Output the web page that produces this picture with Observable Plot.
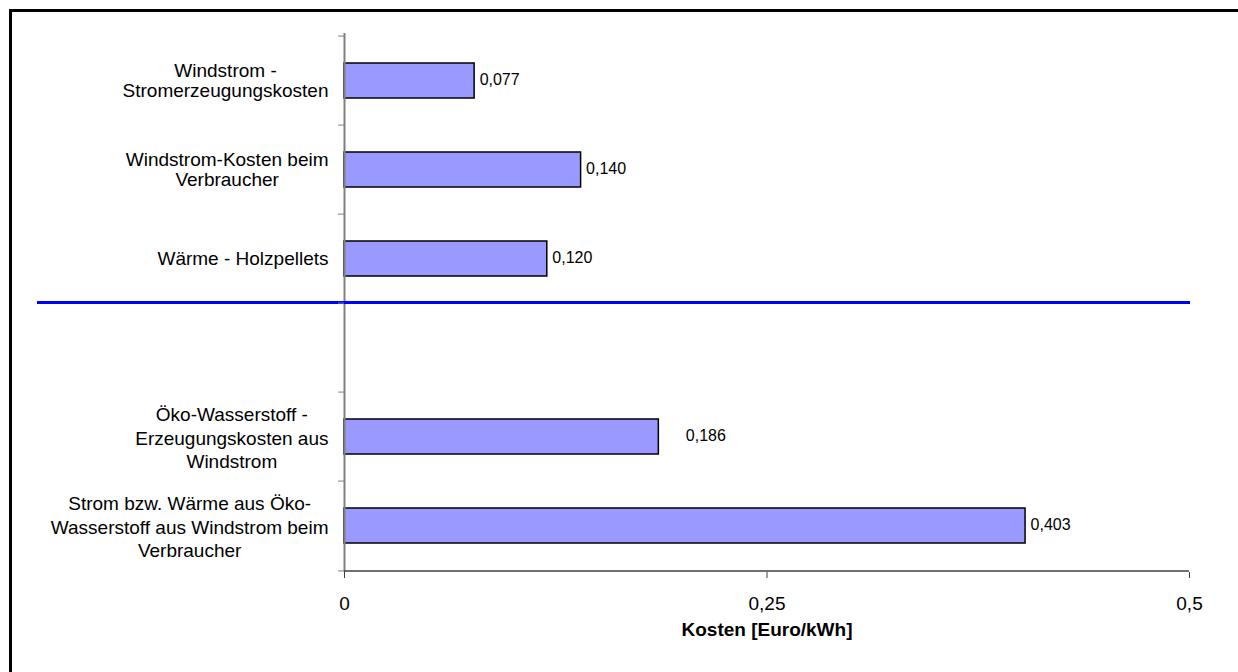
<!DOCTYPE html>
<html><head><meta charset="utf-8">
<script src="https://cdn.jsdelivr.net/npm/d3@7"></script>
<script src="https://cdn.jsdelivr.net/npm/@observablehq/plot@0.6"></script>
<style>
html,body{margin:0;padding:0;background:#fff;overflow:hidden;width:1238px;height:672px;border:0;}
#chart{width:1238px;height:672px;overflow:hidden;}
#chart svg{display:block;max-width:none !important;width:1238px;height:672px;}
</style></head><body><div id="chart"></div>
<script>
const categories = [
  "Windstrom -\nStromerzeugungskosten",
  "Windstrom-Kosten beim\nVerbraucher",
  "Wärme - Holzpellets",
  " ",
  "Öko-Wasserstoff -\nErzeugungskosten aus\nWindstrom",
  "Strom bzw. Wärme aus Öko-\nWasserstoff aus Windstrom beim\nVerbraucher"
];
const values = [0.077, 0.140, 0.120, null, 0.186, 0.403];
const valueLabels = ["0,077", "0,140", "0,120", null, "0,186", "0,403"];
const xTicks = [0, 0.25, 0.5];
const xTickLabels = ["0", "0,25", "0,5"];
const xTitle = "Kosten [Euro/kWh]";

const data = categories.map((c, i) => ({category: c, value: values[i], label: valueLabels[i]}))
  .filter(d => d.value != null);

const W = 1238, H = 672, mt = 33, mb = 100, ml = 344, mr = 49;
const bw = (H - mt - mb) / categories.length;
const font = "'Liberation Sans', Arial, sans-serif";
const lineCount = c => c.split("\n").length;
const shortLabels = categories.filter(c => lineCount(c) < 3);
const longLabels = categories.filter(c => lineCount(c) >= 3);

const plot = Plot.plot({
  width: W, height: H,
  marginTop: mt, marginBottom: mb, marginLeft: ml, marginRight: mr,
  style: {fontFamily: font, fontSize: "19px", color: "#000", background: "#fff"},
  x: {domain: [0, 0.5], axis: null},
  y: {domain: categories, padding: 0, axis: null},
  marks: [
    Plot.barX(data, {x: "value", y: "category", fill: "#9999FF", stroke: "#000", strokeWidth: 1.5, insetTop: 27, insetBottom: 27}),
    Plot.ruleX([0], {stroke: "#808080", strokeWidth: 2}),
    Plot.ruleY([categories[categories.length - 1]], {dy: bw / 2, stroke: "#404040", strokeWidth: 1.5}),
    Plot.ruleY([categories[2]], {dy: bw / 2 - 1.5, stroke: "#0000FF", strokeWidth: 3, insetLeft: -307, insetRight: -1}),
    Plot.axisX({ticks: xTicks, tickFormat: d => xTickLabels[xTicks.indexOf(d)], tickSize: 6, tickPadding: 18, stroke: "#404040", label: null, fontSize: 19}),
    Plot.axisY({ticks: shortLabels, tickSize: 0, tickPadding: 16, label: null, fontSize: 19, lineHeight: 1.05}),
    Plot.axisY({ticks: longLabels, tickSize: 0, tickPadding: 16, label: null, fontSize: 19, lineHeight: 1.24}),
    Plot.axisY({tickSize: 6, tickFormat: () => "", dy: -bw / 2, stroke: "#808080", label: null}),
    Plot.axisY({ticks: [categories[categories.length - 1]], tickSize: 6, tickFormat: () => "", dy: bw / 2, stroke: "#808080", label: null}),
    Plot.text(data.filter(d => d.category !== categories[4]), {x: "value", y: "category", text: "label", textAnchor: "start", dx: 5, dy: -1, fontSize: 16, fill: "#000"}),
    Plot.text(data.filter(d => d.category === categories[4]), {x: "value", y: "category", text: "label", textAnchor: "start", dx: 27, dy: -1, fontSize: 16, fill: "#000"}),
    Plot.text([xTitle], {text: d => d, frameAnchor: "bottom", dy: 63, fontWeight: "bold", fontSize: 19, fill: "#000"})
  ]
});

document.getElementById("chart").append(plot);

// figure border (only the left and top edges fall inside the frame)
const svg = d3.select(plot);
svg.append("path")
  .attr("d", `M10.5,${H}V10.5H${W + 20}`)
  .attr("fill", "none")
  .attr("stroke", "#000")
  .attr("stroke-width", 3);

// center the lines of each multi-line category label within its block
plot.querySelectorAll('g[aria-label="y-axis tick label"] text').forEach(t => {
  const spans = t.querySelectorAll("tspan");
  let maxW = 0;
  if (spans.length) spans.forEach(s => { maxW = Math.max(maxW, s.getComputedTextLength()); });
  else maxW = t.getComputedTextLength();
  if (maxW === 0) return;
  t.setAttribute("text-anchor", "middle");
  if (spans.length) spans.forEach(s => s.setAttribute("x", -maxW / 2));
  else t.setAttribute("x", -maxW / 2);
});
</script>
</body></html>
